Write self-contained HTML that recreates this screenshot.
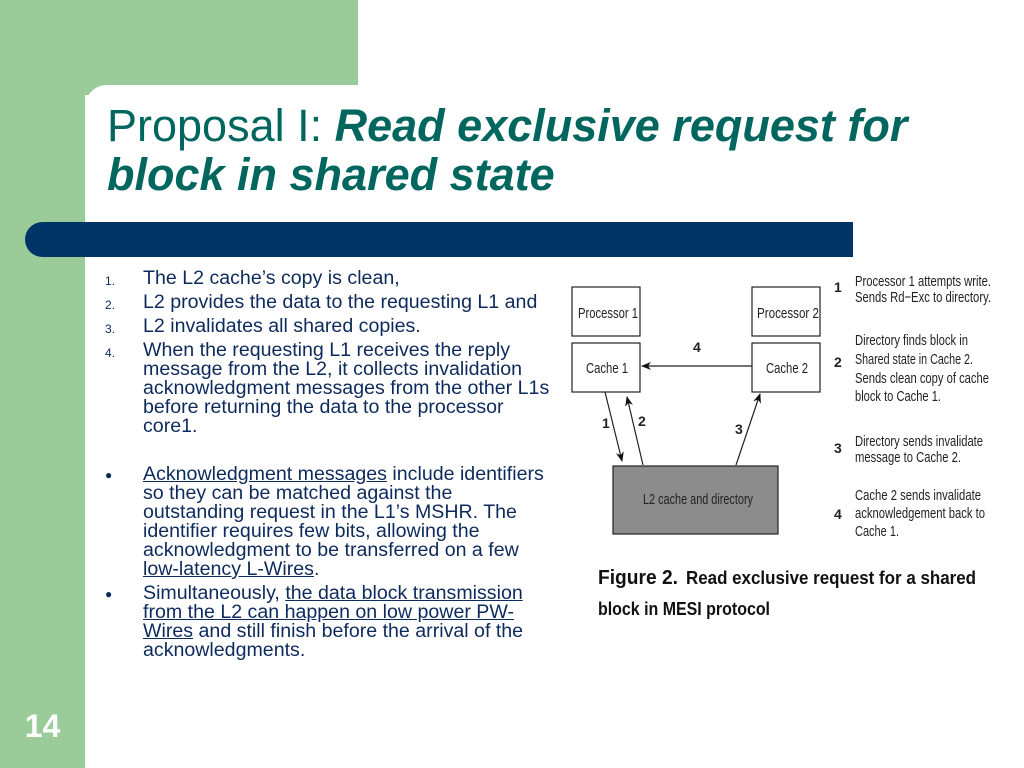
<!DOCTYPE html>
<html><head><meta charset="utf-8"><style>
body{margin:0;width:1024px;height:768px;position:relative;overflow:hidden;background:#fff;font-family:"Liberation Sans",sans-serif}
.a{position:absolute}
.t{color:#0d2a5c;font-size:19.6px;line-height:19px}
u{text-decoration:underline}
.r{position:absolute;left:0}
.n{font-size:12px;position:absolute;left:0;top:3px}
.x{position:absolute;left:38px;width:430px}
</style></head><body>
<div class="a" style="left:0;top:0;width:358px;height:95px;background:#9ccb9a"></div>
<div class="a" style="left:0;top:0;width:85px;height:768px;background:#9ccb9a"></div>
<div class="a" style="left:85px;top:85px;width:300px;height:60px;background:#fff;border-top-left-radius:22px"></div>
<div class="a" style="left:25px;top:222px;width:828px;height:35px;background:#003366;border-radius:18px 0 0 18px"></div>
<div class="a" style="left:107px;top:101px;color:#00665e;font-size:45px;line-height:49px;white-space:nowrap">Proposal I: <b><i>Read exclusive request for<br>block in shared state</i></b></div>
<div class="a" style="left:0;top:708px;width:85px;text-align:center;color:#fff;font-size:32px;font-weight:bold">14</div>

<div class="a t" style="left:105px;top:269px;width:460px;height:400px">
<div class="r" style="top:0"><span class="n">1.</span><span class="x">The L2 cache’s copy is clean,</span></div>
<div class="r" style="top:24px"><span class="n">2.</span><span class="x">L2 provides the data to the requesting L1 and</span></div>
<div class="r" style="top:48px"><span class="n">3.</span><span class="x">L2 invalidates all shared copies.</span></div>
<div class="r" style="top:72px"><span class="n">4.</span><span class="x" style="width:416px">When the requesting L1 receives the reply message from the L2, it collects invalidation acknowledgment messages from the other L1s before returning the data to the processor core1.</span></div>
<div class="r" style="top:196px"><span class="n" style="top:1px">●</span><span class="x" style="width:414px"><u>Acknowledgment messages</u> include identifiers so they can be matched against the outstanding request in the L1’s MSHR. The identifier requires few bits, allowing the acknowledgment to be transferred on a few <u>low-latency L-Wires</u>.</span></div>
<div class="r" style="top:315px"><span class="n" style="top:1px">●</span><span class="x" style="width:395px">Simultaneously, <u>the data block transmission from the L2 can happen on low power PW-Wires</u> and still finish before the arrival of the acknowledgments.</span></div>
</div>

<svg class="a" style="left:0;top:0" width="1024" height="768">
<defs><marker id="m" markerWidth="10" markerHeight="8" refX="9" refY="4" orient="auto" markerUnits="userSpaceOnUse"><path d="M0,0L10,4L0,8L3,4z" fill="#111"/></marker></defs>
<g fill="#fff" stroke="#222" stroke-width="1.2">
<rect x="572" y="287" width="68" height="49"/><rect x="572" y="343" width="68" height="49"/>
<rect x="752" y="287" width="68" height="49"/><rect x="752" y="343" width="68" height="49"/>
<rect x="613" y="466" width="165" height="68" fill="#8c8c8c"/>
</g>
<g stroke="#222" stroke-width="1.2" marker-end="url(#m)">
<line x1="752" y1="366" x2="642" y2="366"/>
<line x1="605" y1="392" x2="622" y2="461"/>
<line x1="643" y1="465" x2="627" y2="397"/>
<line x1="736" y1="465" x2="760" y2="394"/>
</g>
<g font-family="Liberation Sans,sans-serif" font-size="15" fill="#222">
<text x="578" y="318" textLength="60" lengthAdjust="spacingAndGlyphs">Processor 1</text>
<text x="757" y="318" textLength="62" lengthAdjust="spacingAndGlyphs">Processor 2</text>
<text x="586" y="373" textLength="42" lengthAdjust="spacingAndGlyphs">Cache 1</text>
<text x="766" y="373" textLength="42" lengthAdjust="spacingAndGlyphs">Cache 2</text>
<text x="643" y="504" textLength="110" lengthAdjust="spacingAndGlyphs">L2 cache and directory</text>
<g font-weight="bold" font-size="14"><text x="693" y="352">4</text><text x="602" y="428">1</text><text x="638" y="426">2</text><text x="735" y="434">3</text>
<text x="834" y="292">1</text><text x="834" y="367">2</text><text x="834" y="453">3</text><text x="834" y="519">4</text></g>
<g font-size="15">
<text x="855" y="286" textLength="136" lengthAdjust="spacingAndGlyphs">Processor 1 attempts write.</text>
<text x="855" y="302" textLength="136" lengthAdjust="spacingAndGlyphs">Sends Rd−Exc to directory.</text>
<text x="855" y="345" textLength="113" lengthAdjust="spacingAndGlyphs">Directory finds block in</text>
<text x="855" y="364" textLength="118" lengthAdjust="spacingAndGlyphs">Shared state in Cache 2.</text>
<text x="855" y="383" textLength="134" lengthAdjust="spacingAndGlyphs">Sends clean copy of cache</text>
<text x="855" y="401" textLength="86" lengthAdjust="spacingAndGlyphs">block to Cache 1.</text>
<text x="855" y="446" textLength="128" lengthAdjust="spacingAndGlyphs">Directory sends invalidate</text>
<text x="855" y="462" textLength="106" lengthAdjust="spacingAndGlyphs">message to Cache 2.</text>
<text x="855" y="500" textLength="126" lengthAdjust="spacingAndGlyphs">Cache 2 sends invalidate</text>
<text x="855" y="518" textLength="130" lengthAdjust="spacingAndGlyphs">acknowledgement back to</text>
<text x="855" y="536" textLength="44" lengthAdjust="spacingAndGlyphs">Cache 1.</text>
</g>
</g>
<g font-family="Liberation Sans,sans-serif" font-weight="bold" fill="#111">
<text x="598" y="584" font-size="20" textLength="80" lengthAdjust="spacingAndGlyphs">Figure 2.</text>
<text x="686" y="584" font-size="18" textLength="290" lengthAdjust="spacingAndGlyphs">Read exclusive request for a shared</text>
<text x="598" y="615" font-size="18" textLength="172" lengthAdjust="spacingAndGlyphs">block in MESI protocol</text>
</g>
</svg>
</body></html>
